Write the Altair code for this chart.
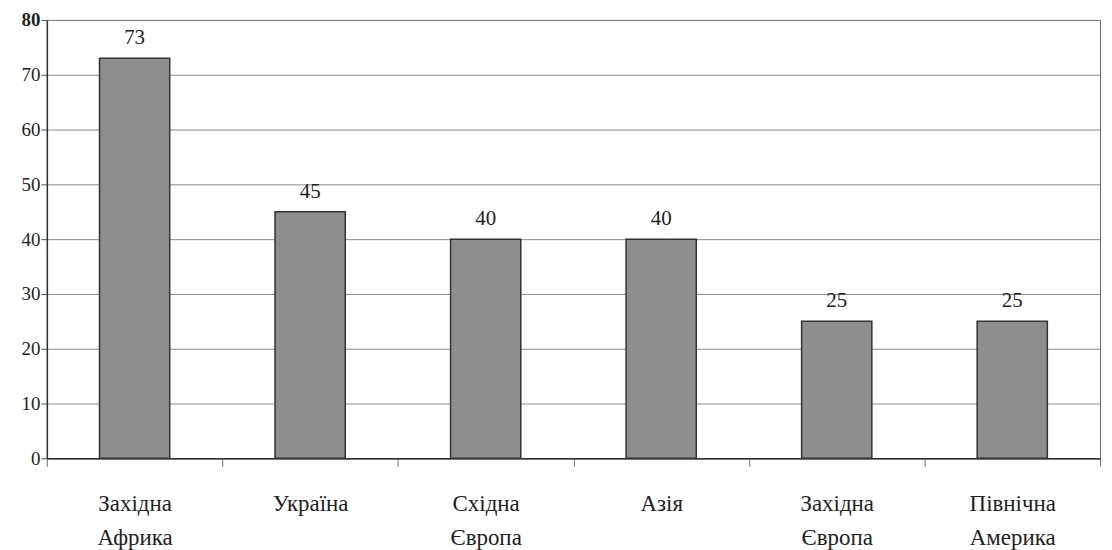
import altair as alt
import pandas as pd

regions = ["Західна Африка", "Україна", "Східна Європа", "Азія", "Західна Європа", "Північна Америка"]
values = [73, 45, 40, 40, 25, 25]
y_ticks = [0, 10, 20, 30, 40, 50, 60, 70, 80]

df = pd.DataFrame({"region": regions, "value": values})

FONT = "Liberation Serif"

x_enc = alt.X(
    "region:N",
    sort=regions,
    title=None,
    scale=alt.Scale(paddingInner=0, paddingOuter=0),
    axis=alt.Axis(
        labelExpr="split(datum.label, ' ')",
        labelAngle=0,
        labelFont=FONT,
        labelFontSize=23,
        labelLineHeight=34,
        labelColor="#222222",
        labelPadding=26,
        tickBand="extent",
        tickSize=8,
        tickColor="#777777",
        domainColor="#333333",
        domainWidth=1.5,
        grid=False,
    ),
)

y_enc = alt.Y(
    "value:Q",
    title=None,
    scale=alt.Scale(domain=[0, 80], nice=False),
    axis=alt.Axis(
        values=y_ticks,
        labelFont=FONT,
        labelFontSize=19,
        labelColor="#222222",
        labelFontWeight={"condition": {"test": "datum.value == 80", "value": "bold"}, "value": "normal"},
        labelPadding=1,
        tickSize=6,
        tickColor="#555555",
        domainColor="#333333",
        domainWidth=1.5,
        gridColor="#8a8a8a",
        gridWidth=1,
    ),
)

bars = alt.Chart(df).mark_bar(
    color="#8e8e8e", stroke="#333333", strokeWidth=1.5, width=alt.RelativeBandSize(0.4)
).encode(x=x_enc, y=y_enc)

labels = alt.Chart(df).mark_text(
    font=FONT, fontSize=21, dy=-14, baseline="alphabetic", color="#222222"
).encode(x=alt.X("region:N", sort=regions), y="value:Q", text="value:Q")

chart = (
    alt.layer(bars, labels)
    .properties(
        width=1057,
        height=440,
        autosize=alt.AutoSizeParams(type="none"),
        padding={"left": 39, "top": 11, "right": 4, "bottom": 91},
        background="white",
    )
    .configure_view(stroke="#666666", strokeWidth=1)
)

chart.save("out.html", embed_options={"renderer": "svg", "actions": False})
